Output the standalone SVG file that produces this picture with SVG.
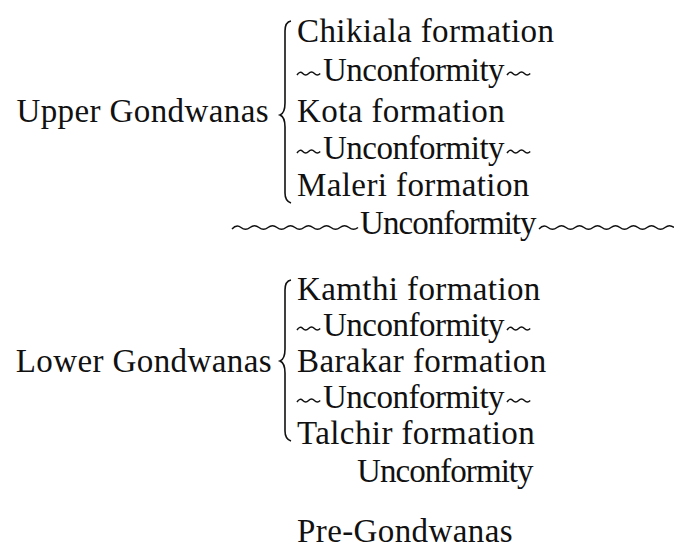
<svg xmlns="http://www.w3.org/2000/svg" width="674" height="560" viewBox="0 0 674 560">
<style>
text{font-family:"Liberation Serif","DejaVu Serif",serif;font-size:33px;letter-spacing:0.4px;fill:#111}
.r{text-anchor:end}
.br{fill:none;stroke:#111;stroke-width:1.6}
.wv{fill:none;stroke:#111;stroke-width:1.5}
</style>
<defs>
<path id="w2" d="M0,0 q2.9,-4.5 5.8,-1.5 t5.8,0 t5.8,0 t5.8,0" class="wv"/>
</defs>
<rect width="674" height="560" fill="#fff"/>
<g id="upper">
<text class="r" x="269" y="122">Upper Gondwanas</text>
<path class="br" d="M291,21 q-6,1 -6,10 v72 q0,10 -5,12 q5,2 5,12 v66 q0,8 6,10"/>
<text x="297" y="42">Chikiala formation</text>
<g><use href="#w2" x="297" y="75"/><text x="323" y="81" textLength="182">Unconformity</text><use href="#w2" x="507" y="75"/></g>
<text x="297" y="122">Kota formation</text>
<g><use href="#w2" x="297" y="153"/><text x="323" y="159" textLength="182">Unconformity</text><use href="#w2" x="507" y="153"/></g>
<text x="297" y="196">Maleri formation</text>
</g>
<g id="main-unconformity">
<path class="wv" d="M232,229 q4.5,-5 9,-1.5 t9,0 t9,0 t9,0 t9,0 t9,0 t9,0 t9,0 t9,0 t9,0 t9,0 t9,0 t9,0 t9,0"/>
<text x="360" y="234" textLength="177">Unconformity</text>
<path class="wv" d="M539,229 q4.5,-5 9,-1.5 t9,0 t9,0 t9,0 t9,0 t9,0 t9,0 t9,0 t9,0 t9,0 t9,0 t9,0 t9,0 t9,0 t9,0"/>
</g>
<g id="lower">
<text class="r" x="272" y="372">Lower Gondwanas</text>
<path class="br" d="M291,280 q-6,1 -6,10 v59 q0,10 -5,12 q5,2 5,12 v58 q0,8 6,10"/>
<text x="297" y="300">Kamthi formation</text>
<g><use href="#w2" x="297" y="330"/><text x="323" y="336" textLength="182">Unconformity</text><use href="#w2" x="507" y="330"/></g>
<text x="297" y="372">Barakar formation</text>
<g><use href="#w2" x="297" y="402"/><text x="323" y="408" textLength="182">Unconformity</text><use href="#w2" x="507" y="402"/></g>
<text x="297" y="444">Talchir formation</text>
</g>
<g id="bottom">
<text x="357" y="482" textLength="177">Unconformity</text>
<text x="297" y="542">Pre-Gondwanas</text>
</g>
</svg>
